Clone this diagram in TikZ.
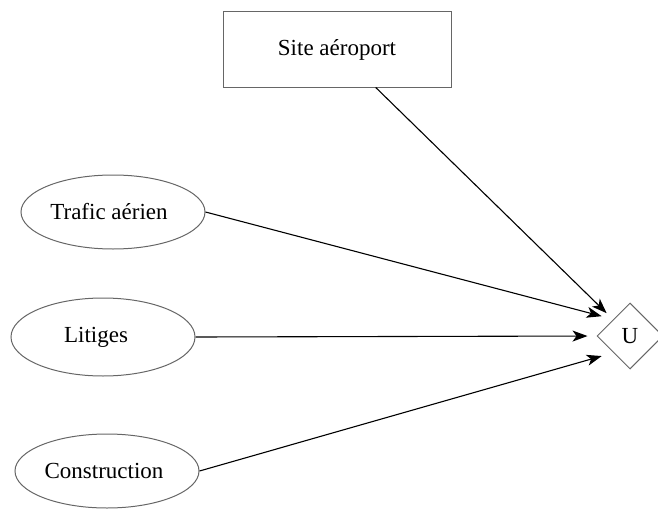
\documentclass[tikz,border=0pt]{standalone}
\usepackage{fontspec}
\setmainfont{Liberation Serif}
\usetikzlibrary{shapes.geometric,arrows.meta}
\begin{document}
\begin{tikzpicture}[x=1pt,y=-1pt,
  shapeline/.style={draw=black!60,line width=1pt},
  chance/.style={shapeline,ellipse,minimum width=184pt,minimum height=74pt,inner sep=0pt},
  decisionbox/.style={shapeline,rectangle,minimum width=228pt,minimum height=75pt,inner sep=0pt},
  utility/.style={shapeline,diamond,minimum width=66pt,minimum height=66pt,inner sep=0pt},
  link/.style={draw=black,line width=1.1pt,-{Stealth[length=15pt,width=11pt,inset=4pt]},shorten >=9pt},
  every node/.style={font=\fontsize{23}{28}\selectfont}]
\useasboundingbox (0,0) rectangle (658,511);
\node[decisionbox] (site) at (337,49.5) {Site aéroport};
\node[chance] (traf) at (113,212) {Trafic aérien\hspace*{8pt}};
\node[chance,minimum width=184pt,minimum height=78pt] (lit) at (103,337) {Litiges\hspace*{14pt}};
\node[chance] (cons) at (107,471) {Construction\hspace*{6pt}};
\node[utility] (U) at (630,336) {U};
\draw[link] (site) -- (U);
\draw[link,shorten >=12pt] (traf.east) -- (U.north west);
\draw[link] (lit.east) -- (U.west);
\draw[link,shorten >=12pt] (cons.east) -- (U.south west);
\end{tikzpicture}
\end{document}
